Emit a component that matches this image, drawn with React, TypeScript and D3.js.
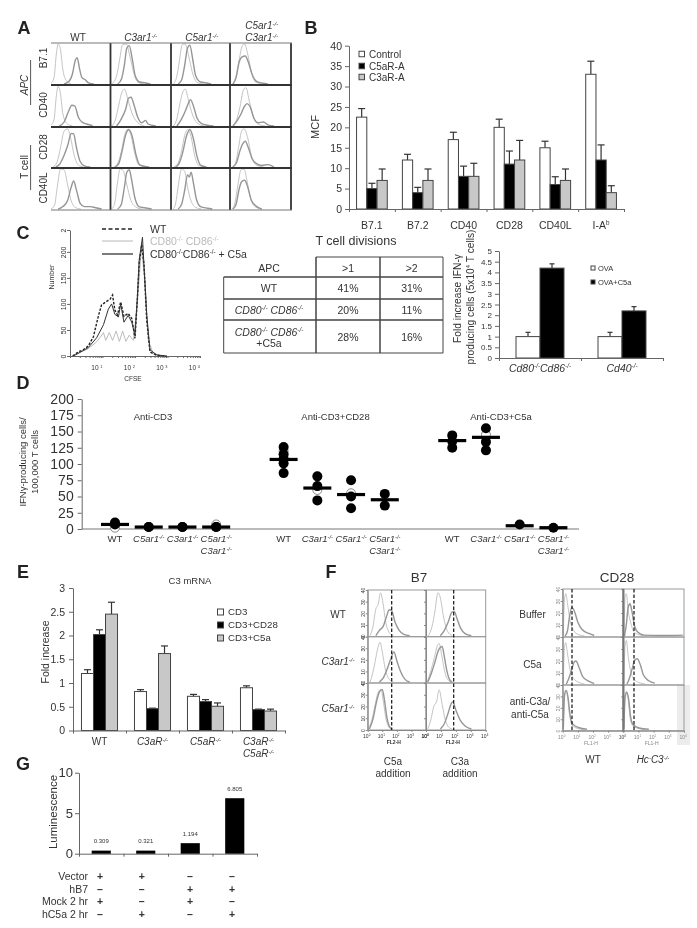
import React, { useEffect, useRef } from 'react';
import * as d3 from 'd3';

const FONT = '"Liberation Sans", Arial, sans-serif';
const INK = '#333';
const AXIS = '#666';
const THIN = '#c4c4c4';
const THICK = '#969696';

type Pt = [number, number];

// Panel A: flow histograms, x and y as fractions of the cell
const aColumns = ['WT', 'C3ar1^{-/-}', 'C5ar1^{-/-}', 'C3ar1^{-/-}'];
const aRows = ['B7.1', 'CD40', 'CD28', 'CD40L'];
const aThin: Pt[][][] = [
  [
    [[0, .02], [.05, .15], [.09, .75], [.12, 1], [.16, .85], [.2, .35], [.26, .08], [.34, 0]],
    [[.02, 0], [.1, .2], [.15, .6], [.2, .98], [.26, 1], [.32, .7], [.38, .3], [.45, .05], [.55, 0]],
    [[.04, 0], [.1, .2], [.14, .55], [.19, .98], [.24, 1], [.3, .7], [.36, .3], [.44, .04], [.55, 0]],
    [[.04, 0], [.1, .2], [.15, .6], [.2, .95], [.24, 1], [.29, .75], [.35, .3], [.42, .05], [.55, 0]],
  ],
  [
    [[0, .02], [.05, .15], [.09, .75], [.12, 1], [.16, .8], [.2, .3], [.27, .06], [.36, 0]],
    [[.02, 0], [.08, .15], [.14, .55], [.19, .85], [.23, .92], [.29, .65], [.36, .3], [.44, .1], [.56, 0]],
    [[.04, 0], [.1, .18], [.15, .55], [.2, .85], [.24, .92], [.3, .62], [.36, .3], [.44, .08], [.56, 0]],
    [[.04, 0], [.1, .12], [.16, .45], [.22, .9], [.26, .96], [.32, .6], [.38, .25], [.46, .05], [.58, 0]],
  ],
  [
    [[.03, 0], [.1, .12], [.16, .5], [.22, .92], [.28, .98], [.33, .75], [.39, .3], [.46, .05], [.55, 0]],
    [[.05, 0], [.12, .1], [.18, .4], [.23, .8], [.28, .96], [.34, .8], [.4, .35], [.47, .05], [.58, 0]],
    [[.05, 0], [.12, .1], [.18, .42], [.23, .8], [.28, .96], [.34, .78], [.4, .3], [.47, .04], [.58, 0]],
    [[.03, 0], [.09, .1], [.14, .5], [.19, .92], [.23, .98], [.29, .75], [.35, .3], [.42, .06], [.55, 0]],
  ],
  [
    [[0, 0], [.06, .1], [.11, .6], [.16, 1], [.22, .98], [.28, .6], [.34, .2], [.42, .03], [.5, 0]],
    [[.02, 0], [.07, .15], [.11, .6], [.16, 1], [.21, .96], [.27, .6], [.33, .25], [.42, .05], [.52, 0]],
    [[.04, 0], [.08, .15], [.12, .55], [.18, 1], [.23, .95], [.28, .55], [.34, .2], [.42, .04], [.52, 0]],
    [[.04, 0], [.08, .15], [.13, .6], [.18, .98], [.23, 1], [.28, .7], [.33, .3], [.42, .05], [.52, 0]],
  ],
];
const aThick: Pt[][][] = [
  [
    [[.22, 0], [.3, .06], [.36, .25], [.41, .6], [.44, .66], [.48, .38], [.52, .16], [.58, .1], [.63, .03], [.72, 0]],
    [[.12, 0], [.18, .12], [.23, .48], [.27, .9], [.31, .96], [.36, .62], [.41, .2], [.48, .05], [.56, .03], [.66, 0]],
    [[.12, 0], [.18, .1], [.23, .45], [.28, .9], [.32, .97], [.37, .6], [.42, .2], [.5, .05], [.58, .03], [.68, 0]],
    [[.05, 0], [.1, .16], [.15, .55], [.2, .68], [.25, .7], [.3, .55], [.36, .25], [.44, .06], [.54, .02], [.62, 0]],
  ],
  [
    [[.14, 0], [.22, .1], [.29, .35], [.35, .52], [.4, .5], [.46, .22], [.52, .1], [.6, .05], [.7, .01]],
    [[.1, 0], [.18, .18], [.25, .42], [.3, .7], [.34, .72], [.39, .52], [.45, .22], [.52, .08], [.58, .14], [.62, .05], [.75, 0]],
    [[.1, 0], [.18, .18], [.25, .4], [.29, .55], [.33, .66], [.38, .5], [.44, .2], [.52, .06], [.62, .02], [.72, 0]],
    [[.05, 0], [.12, .14], [.18, .3], [.24, .5], [.28, .56], [.33, .48], [.39, .2], [.46, .08], [.55, .1], [.62, .03], [.72, 0]],
  ],
  [
    [[.08, 0], [.15, .08], [.22, .3], [.28, .55], [.34, .86], [.38, .85], [.43, .48], [.49, .14], [.56, .03], [.66, 0]],
    [[.08, 0], [.14, .1], [.19, .4], [.25, .82], [.3, .96], [.36, .78], [.42, .32], [.48, .06], [.56, .02], [.64, 0]],
    [[.08, 0], [.14, .1], [.2, .38], [.26, .78], [.32, .96], [.38, .72], [.44, .28], [.5, .05], [.6, 0]],
    [[.05, 0], [.11, .12], [.16, .4], [.21, .6], [.25, .66], [.3, .5], [.36, .22], [.44, .08], [.52, .04], [.62, .06], [.72, 0]],
  ],
  [
    [[.12, 0], [.2, .06], [.28, .22], [.34, .55], [.38, .7], [.43, .46], [.49, .14], [.56, .06], [.66, .06], [.75, .03], [.85, 0]],
    [[.12, 0], [.18, .12], [.23, .55], [.27, .92], [.31, .98], [.35, .72], [.4, .3], [.47, .06], [.56, .03], [.68, 0]],
    [[.12, 0], [.18, .12], [.23, .45], [.28, .85], [.31, .8], [.34, .92], [.38, .65], [.43, .25], [.5, .06], [.62, .02], [.7, 0]],
    [[.05, 0], [.1, .12], [.15, .5], [.19, .68], [.24, .72], [.29, .55], [.35, .22], [.44, .06], [.52, 0]],
  ],
];

// Panel B
const bCategories = ['B7.1', 'B7.2', 'CD40', 'CD28', 'CD40L', 'I-A^{b}'];
const bSeries = ['Control', 'C5aR-A', 'C3aR-A'];
const bControl = [22.5, 12, 17, 20, 15, 33];
const bControlTop = [24.6, 13.4, 18.8, 22, 16.6, 36.2];
const bC5aR = [5, 4, 8, 11, 6, 12];
const bC5aRTop = [6.3, 5.3, 10.5, 14.2, 7.9, 15.7];
const bC3aR = [7, 7, 8, 12, 7, 4];
const bC3aRTop = [9.8, 9.8, 11.2, 16.8, 9.8, 5.7];
const bTicks = [0, 5, 10, 15, 20, 25, 30, 35, 40];

// Panel C histogram: [log10 CFSE, cell number]
const cWT: Pt[] = [[.08, 0], [.26, 8], [.41, 12], [.56, 19], [.72, 37], [.87, 76], [.97, 98], [1.13, 105], [1.23, 109], [1.31, 117], [1.38, 88], [1.46, 79], [1.56, 104], [1.66, 76], [1.79, 82], [1.9, 72], [2.0, 34], [2.07, 107], [2.13, 180], [2.21, 214], [2.28, 172], [2.36, 69], [2.46, 8], [2.67, 1], [2.97, 0]];
const cKO: Pt[] = [[.1, 0], [.31, 7], [.56, 14], [.8, 26], [.92, 35], [1.03, 45], [1.1, 30], [1.21, 45], [1.31, 30], [1.42, 48], [1.52, 28], [1.62, 48], [1.72, 28], [1.82, 40], [1.95, 30], [2.07, 100], [2.2, 210], [2.31, 140], [2.41, 30], [2.56, 5], [2.87, 0]];
const cKOC5a: Pt[] = [[.1, 0], [.31, 7], [.56, 16], [.82, 35], [1.03, 60], [1.18, 90], [1.28, 100], [1.38, 80], [1.49, 75], [1.56, 100], [1.66, 65], [1.79, 78], [1.9, 65], [2.0, 40], [2.07, 110], [2.13, 185], [2.23, 228], [2.28, 170], [2.36, 80], [2.46, 12], [2.67, 2], [2.97, 0]];
const cLegend = ['WT', 'CD80^{-/-} CD86^{-/-}', 'CD80^{-/-}CD86^{-/-} + C5a'];
const cTicks = [0, 50, 100, 150, 200, 242];
const cDecades = [1, 2, 3, 4];

const tableHead = ['APC', '>1', '>2'];
const tableFirst = ['WT', 'CD80^{-/-} CD86^{-/-}', 'CD80^{-/-} CD86^{-/-}'];
const tableGt1 = ['41%', '20%', '28%'];
const tableGt2 = ['31%', '11%', '16%'];

const c2Categories = ['Cd80^{-/-}Cd86^{-/-}', 'Cd40^{-/-}'];
const c2Ova = [1, 1];
const c2OvaTop = [1.2, 1.2];
const c2OvaC5a = [4.2, 2.2];
const c2OvaC5aTop = [4.4, 2.4];
const c2Ticks = [0, .5, 1, 1.5, 2, 2.5, 3, 3.5, 4, 4.5, 5];

// Panel D
const dSlots = [0, 1, 2, 3, 5, 6, 7, 8, 10, 11, 12, 13];
const dLabels = ['WT', 'C5ar1^{-/-}', 'C3ar1^{-/-}', 'C5ar1^{-/-}', 'WT', 'C3ar1^{-/-}', 'C5ar1^{-/-}', 'C5ar1^{-/-}', 'WT', 'C3ar1^{-/-}', 'C5ar1^{-/-}', 'C5ar1^{-/-}'];
const dLabels2 = ['', '', '', 'C3ar1^{-/-}', '', '', '', 'C3ar1^{-/-}', '', '', '', 'C3ar1^{-/-}'];
const dDots = [[10, 7], [3, 3], [3, 3], [3, 3], [126, 115, 108, 101, 86], [81, 66, 44], [75, 50, 32], [54, 36], [144, 135, 125], [155, 134, 121], [7], [2]];
const dRings = [[2], [], [], [7], [120], [60], [55], [], [], [145], [], []];
const dMedians = [7, 3, 3, 3, 107, 63, 53, 45, 136, 141, 5, 2];
const dTicks = [0, 25, 50, 75, 100, 125, 150, 175, 200];
const dGroups = ['Anti-CD3', 'Anti-CD3+CD28', 'Anti-CD3+C5a'];

// Panel E
const eCategories = ['WT', 'C3aR^{-/-}', 'C5aR^{-/-}', 'C3aR^{-/-}'];
const eCategories2 = ['', '', '', 'C5aR^{-/-}'];
const eSeries = ['CD3', 'CD3+CD28', 'CD3+C5a'];
const eCD3 = [1.2, .82, .72, .9];
const eCD3Top = [1.28, .86, .76, .94];
const eCD28 = [2.02, .46, .61, .44];
const eCD28Top = [2.12, .47, .65, .45];
const eC5a = [2.45, 1.62, .51, .41];
const eC5aTop = [2.7, 1.78, .58, .45];
const eTicks = [0, .5, 1, 1.5, 2, 2.5, 3];

// Panel F, B7 block: [control, stained] for each cell, row by row
const fB7: Pt[][][] = [
  [[[.04, 0], [.09, .2], [.14, .6], [.18, .7], [.22, .96], [.26, .75], [.31, .3], [.38, .05], [.44, 0]],
    [[.14, 0], [.2, .12], [.27, .22], [.32, .42], [.37, .58], [.41, .56], [.47, .3], [.54, .12], [.62, .03], [.72, 0]]],
  [[[.04, 0], [.1, .2], [.15, .55], [.2, .96], [.24, .85], [.29, .45], [.36, .1], [.44, 0]],
    [[.24, 0], [.3, .1], [.37, .3], [.43, .52], [.47, .55], [.52, .38], [.58, .17], [.66, .04], [.76, 0]]],
  [[[.04, 0], [.09, .22], [.14, .55], [.18, .8], [.21, .9], [.25, .68], [.3, .3], [.37, .06], [.44, 0]],
    [[.2, 0], [.27, .1], [.33, .28], [.39, .5], [.45, .68], [.5, .48], [.56, .25], [.64, .06], [.72, 0]]],
  [[[.02, 0], [.08, .25], [.14, .55], [.19, .82], [.22, .87], [.27, .55], [.32, .2], [.38, .03], [.42, 0]],
    [[.03, 0], [.09, .2], [.15, .45], [.21, .72], [.27, .8], [.31, .55], [.35, .25], [.4, .04], [.44, 0]]],
  [[[.01, 0], [.07, .2], [.13, .55], [.18, .82], [.23, .88], [.27, .6], [.31, .25], [.36, .05], [.4, 0]],
    [[.03, 0], [.09, .22], [.15, .6], [.2, .82], [.25, .88], [.29, .62], [.33, .25], [.38, .04], [.42, 0]]],
  [[[.03, 0], [.08, .2], [.13, .5], [.18, .62], [.22, .87], [.27, .55], [.32, .22], [.38, .04], [.44, 0]],
    [[.24, 0], [.3, .1], [.37, .35], [.42, .56], [.45, .6], [.5, .42], [.58, .18], [.66, .06], [.76, 0]]],
];
// Panel F, CD28 block
const fCD28: Pt[][][] = [
  [[[.01, .02], [.03, .8], [.05, .92], [.08, .7], [.12, .35], [.18, .12], [.26, .03], [.36, 0]],
    [[.04, 0], [.08, .12], [.11, .4], [.15, .62], [.19, .55], [.25, .3], [.32, .14], [.42, .06], [.52, .01]]],
  [[[.01, .02], [.03, .85], [.05, .92], [.08, .55], [.12, .3], [.18, .08], [.28, .02], [.38, 0]],
    [[.02, 0], [.05, .25], [.08, .62], [.11, .7], [.14, .55], [.18, .25], [.24, .08], [.34, .02], [.6, .01], [.98, .02]]],
  [[[.01, .02], [.03, .8], [.05, .9], [.08, .65], [.12, .32], [.18, .12], [.26, .04], [.36, 0]],
    [[.06, 0], [.1, .12], [.15, .32], [.19, .48], [.22, .5], [.27, .36], [.33, .16], [.42, .07], [.52, .01]]],
  [[[.01, .02], [.03, .85], [.05, .95], [.08, .6], [.12, .28], [.18, .1], [.26, .03], [.36, 0]],
    [[.06, 0], [.1, .12], [.15, .35], [.19, .52], [.23, .55], [.28, .42], [.33, .2], [.42, .07], [.52, .02]]],
  [[[.01, .02], [.03, .82], [.05, .9], [.08, .75], [.11, .38], [.15, .12], [.24, .03], [.36, 0]],
    [[.01, .02], [.03, .78], [.06, .9], [.09, .72], [.12, .35], [.16, .14], [.26, .05], [.4, .01]]],
  [[[.01, .02], [.03, .8], [.05, .88], [.08, .7], [.11, .3], [.15, .1], [.24, .03], [.36, 0]],
    [[.01, .02], [.03, .75], [.06, .85], [.09, .68], [.12, .3], [.16, .12], [.26, .04], [.42, .01]]],
];
const fB7Rows = ['WT', 'C3ar1^{-/-}', 'C5ar1^{-/-}'];
const fB7Cols = ['C5a', 'C3a'];
const fCD28Rows = ['Buffer', 'C5a'];
const fCD28Cols = ['WT', 'Hc^{-}C3^{-/-}'];
const fTicks = [0, 10, 20, 30, 40];
const fDecades = [0, 1, 2, 3, 4];

// Panel G
const gValues = [.309, .321, 1.194, 6.805];
const gBars = [.38, .38, 1.3, 6.85];
const gLabels = ['0.309', '0.321', '1.194', '6.805'];
const gTicks = [0, 5, 10];
const gRows = ['Vector', 'hB7', 'Mock 2 hr', 'hC5a 2 hr'];
const gSigns = [['+', '+', '–', '–'], ['–', '–', '+', '+'], ['+', '–', '+', '–'], ['–', '+', '–', '+']];

type G = d3.Selection<any, unknown, null, undefined>;
interface TextOpts { size?: number; anchor?: string; italic?: boolean; weight?: string; fill?: string; rotate?: boolean }

// ^{..} in a label becomes a raised tspan
const label = (g: G, x: number, y: number, s: string, o: TextOpts = {}) => {
  const size = o.size ?? 10;
  const t = g.append('text').attr('x', x).attr('y', y)
    .attr('font-family', FONT).attr('font-size', size)
    .attr('text-anchor', o.anchor ?? 'middle')
    .attr('fill', o.fill ?? INK);
  if (o.italic) t.attr('font-style', 'italic');
  if (o.weight) t.attr('font-weight', o.weight);
  if (o.rotate) t.attr('transform', `rotate(-90 ${x} ${y})`);
  const shift = size * 0.35;
  s.split(/\^\{([^}]*)\}/).forEach((part, i) => {
    if (i % 2) {
      t.append('tspan').attr('dy', -shift).attr('font-size', size * 0.6).text(part);
    } else if (part) {
      const ts = t.append('tspan').text(part);
      if (i > 0) ts.attr('dy', shift);
    }
  });
  return t;
};

const styleAxis = (g: G, size: number, fill = INK, stroke = AXIS) => {
  g.selectAll('path,line').attr('stroke', stroke);
  g.selectAll('text').attr('font-size', size).attr('fill', fill).attr('font-family', FONT);
};

const leftAxis = (svg: G, x: number, y: any, ticks: number[], size: number, pad = 3) => {
  const a = d3.axisLeft(y).tickValues(ticks).tickSize(4).tickSizeOuter(0).tickPadding(pad).tickFormat(d => String(d));
  const g = svg.append('g').attr('transform', `translate(${x},0)`).call(a as any);
  styleAxis(g, size);
  return g;
};

const bottomAxis = (svg: G, y: number, x: any, ticks: number[], tick = 3) => {
  const g = svg.append('g').attr('transform', `translate(0,${y})`)
    .call(d3.axisBottom(x).tickValues(ticks).tickSize(tick).tickSizeOuter(0).tickFormat(() => '') as any);
  styleAxis(g, 1);
  return g;
};

const bars = (svg: G, band: any, sub: any, y: any, cats: string[], vals: number[], tops: number[], fill: string, capW = 3.5, key = '') => {
  const g = svg.append('g').attr('data-series', key);
  const rows = cats.map((c, i) => ({ c, v: vals[i], t: tops[i] }));
  const cx = (d: any) => band(d.c) + sub(key) + sub.bandwidth() / 2;
  g.selectAll('line.err').data(rows).join('line').attr('class', 'err')
    .attr('x1', cx).attr('x2', cx).attr('y1', d => y(d.v)).attr('y2', d => y(d.t))
    .attr('stroke', INK).attr('stroke-width', 1.2);
  g.selectAll('line.cap').data(rows).join('line').attr('class', 'cap')
    .attr('x1', d => cx(d) - capW).attr('x2', d => cx(d) + capW).attr('y1', d => y(d.t)).attr('y2', d => y(d.t))
    .attr('stroke', INK).attr('stroke-width', 1.2);
  g.selectAll('rect').data(rows).join('rect')
    .attr('x', d => band(d.c) + sub(key)).attr('width', sub.bandwidth())
    .attr('y', d => y(d.v)).attr('height', d => y(0) - y(d.v))
    .attr('fill', fill).attr('stroke', '#444').attr('stroke-width', 1);
};

const swatches = (svg: G, x: number, ys: number[], names: string[], fills: string[], s: number, size: number, dx: number) => {
  names.forEach((n, i) => {
    svg.append('rect').attr('x', x).attr('y', ys[i] - s / 2).attr('width', s).attr('height', s)
      .attr('fill', fills[i]).attr('stroke', '#444').attr('stroke-width', 1);
    label(svg, x + dx, ys[i] + size * 0.36, n, { size, anchor: 'start' });
  });
};

// one histogram cell with a light control curve and a darker stained curve
const hist = (svg: G, x0: number, x1: number, y0: number, y1: number, thin: Pt[], thick: Pt[]) => {
  const x = d3.scaleLinear().domain([0, 1]).range([x0, x1]);
  const y = d3.scaleLinear().domain([0, 1]).range([y1 - 1, y0 + 1]);
  const line = d3.line<Pt>().x(d => x(d[0])).y(d => y(d[1])).curve(d3.curveMonotoneX);
  svg.append('path').attr('d', line(thin)).attr('fill', 'none').attr('stroke', THIN).attr('stroke-width', 1);
  svg.append('path').attr('d', line(thick)).attr('fill', 'none').attr('stroke', THICK).attr('stroke-width', 1.4);
};

const panelLetter = (svg: G, x: number, y: number, s: string) =>
  label(svg, x, y, s, { size: 18, weight: 'bold', fill: '#222' });

const drawA = (svg: G) => {
  panelLetter(svg, 24, 34, 'A');
  const xs = [51, 110.5, 171, 230, 291];
  const ys = [43, 85, 127, 168, 210];
  aThin.forEach((row, r) => row.forEach((c, k) => hist(svg, xs[k], xs[k + 1], ys[r], ys[r + 1], c, aThick[r][k])));
  xs.slice(1).forEach(x => svg.append('line').attr('x1', x).attr('x2', x).attr('y1', 43).attr('y2', 210).attr('stroke', '#333').attr('stroke-width', 1.8));
  ys.forEach((y, i) => svg.append('line').attr('x1', 51).attr('x2', 292).attr('y1', y).attr('y2', y)
    .attr('stroke', i === 0 || i === 4 ? '#777' : '#333').attr('stroke-width', i === 0 || i === 4 ? 1 : 1.8));
  const mid = [78, 140.7, 201.7, 261.7];
  aColumns.forEach((c, i) => label(svg, mid[i], 41, c, { size: 10, italic: i > 0 }));
  label(svg, 261.7, 29, 'C5ar1^{-/-}', { size: 10, italic: true });
  const rowMid = [58, 105, 147, 188];
  aRows.forEach((r, i) => label(svg, 47, rowMid[i], r, { size: 10, rotate: true }));
  label(svg, 28, 85, 'APC', { size: 10, rotate: true, italic: true });
  label(svg, 28, 167, 'T cell', { size: 10, rotate: true });
  [[60, 105], [145, 190]].forEach(([a, b]) => svg.append('line').attr('x1', 30.6).attr('x2', 30.6).attr('y1', a).attr('y2', b).attr('stroke', '#555'));
};

const drawB = (svg: G) => {
  panelLetter(svg, 311, 34, 'B');
  const y = d3.scaleLinear().domain([0, 40]).range([209, 45.7]);
  const band = d3.scaleBand().domain(bCategories).range([349, 624]).paddingInner(.33).paddingOuter(.165);
  const sub = d3.scaleBand().domain(bSeries).range([0, band.bandwidth()]);
  const edges = d3.scaleLinear().domain([0, 6]).range([349, 624]);
  leftAxis(svg, 349, y, bTicks, 10.5);
  bars(svg, band, sub, y, bCategories, bControl, bControlTop, '#fff', 3.5, 'Control');
  bars(svg, band, sub, y, bCategories, bC5aR, bC5aRTop, '#000', 3.5, 'C5aR-A');
  bars(svg, band, sub, y, bCategories, bC3aR, bC3aRTop, '#c8c8c8', 3.5, 'C3aR-A');
  bottomAxis(svg, 209, edges, d3.range(7));
  bCategories.forEach(c => label(svg, (band(c) as number) + band.bandwidth() / 2, 229, c, { size: 10.5 }));
  label(svg, 319, 127, 'MCF', { size: 11, rotate: true });
  swatches(svg, 359, [54, 66, 77], bSeries, ['#fff', '#000', '#c8c8c8'], 5.5, 10, 10);
};

const drawC = (svg: G) => {
  panelLetter(svg, 23, 239, 'C');
  const x = d3.scaleLinear().domain([0, 4]).range([70, 200]);
  const xLog = d3.scaleLog().domain([1, 1e4]).range([70, 200]);
  const y = d3.scaleLinear().domain([0, 242]).range([356, 230]);
  const line = d3.line<Pt>().x(d => x(d[0])).y(d => y(d[1]));
  const yAxis = svg.append('g').attr('transform', 'translate(70,0)')
    .call(d3.axisLeft(y).tickValues(cTicks).tickSize(3).tickSizeOuter(0).tickPadding(4)
      .tickFormat(d => (d === 242 ? '2' : String(d))) as any);
  styleAxis(yAxis, 7);
  yAxis.selectAll('text').attr('text-anchor', 'middle').attr('dy', 0)
    .attr('transform', 'rotate(-90 -7 0)').attr('x', -7).attr('y', 3);
  bottomAxis(svg, 356, xLog, xLog.ticks(), 2);
  cDecades.forEach(d => label(svg, xLog(10 ** d), 370, `10 ^{${d}}`, { size: 6.5, anchor: 'end' }));
  label(svg, 133, 381, 'CFSE', { size: 6.5 });
  label(svg, 54, 277, 'Number', { size: 7, rotate: true });
  const curves: [Pt[], string, string, number][] = [
    [cKO, '#bcbcbc', 'none', 1],
    [cWT, '#222', '2.5 1.5', 1.4],
    [cKOC5a, '#333', 'none', 1],
  ];
  curves.forEach(([d, stroke, dash, w]) => svg.append('path').attr('d', line(d)).attr('fill', 'none')
    .attr('stroke', stroke).attr('stroke-dasharray', dash).attr('stroke-width', w));
  const legendY = [229, 241, 254];
  const legendStroke = ['#222', '#b8b8b8', '#444'];
  cLegend.forEach((s, i) => {
    svg.append('line').attr('x1', 102).attr('x2', 133).attr('y1', legendY[i]).attr('y2', legendY[i])
      .attr('stroke', legendStroke[i]).attr('stroke-width', i === 1 ? 1 : 1.4).attr('stroke-dasharray', i === 0 ? '4 2.5' : 'none');
    label(svg, 150, legendY[i] + 4, s, { size: 10.5, anchor: 'start', fill: i === 1 ? '#bbb' : INK });
  });

  // table
  label(svg, 356, 245, 'T cell divisions', { size: 12.5 });
  const hs = [277, 299, 320, 353];
  const hl = (a: number, b: number, yy: number, w = 1.5) => svg.append('line').attr('x1', a).attr('x2', b).attr('y1', yy).attr('y2', yy).attr('stroke', '#444').attr('stroke-width', w);
  const vl = (xx: number, a: number, b: number, w = 1.5) => svg.append('line').attr('x1', xx).attr('x2', xx).attr('y1', a).attr('y2', b).attr('stroke', '#444').attr('stroke-width', w);
  hl(316, 443, 257, 1);
  hs.forEach((h, i) => hl(223.7, 443, h, i === 3 ? 1 : 1.6));
  vl(223.7, 277, 353, 1);
  vl(316, 257, 353);
  vl(380, 257, 353);
  vl(443, 257, 353, 1);
  const colX = [269, 348, 411.7];
  tableHead.forEach((s, i) => label(svg, colX[i], 271.5, s, { size: 10.5 }));
  const rowY = [292, 313.5, 340.5];
  tableFirst.forEach((s, i) => label(svg, colX[0], i === 2 ? 335.5 : rowY[i], s, { size: 10.5, italic: i > 0 }));
  label(svg, colX[0], 347, '+C5a', { size: 10.5 });
  tableGt1.forEach((s, i) => label(svg, colX[1], rowY[i], s, { size: 10.5 }));
  tableGt2.forEach((s, i) => label(svg, colX[2], rowY[i], s, { size: 10.5 }));

  // fold increase bars
  const yb = d3.scaleLinear().domain([0, 5]).range([358, 251]);
  const band = d3.scaleBand().domain(c2Categories).range([499, 663]).paddingInner(.415).paddingOuter(.2075);
  const sub = d3.scaleBand().domain(['OVA', 'OVA+C5a']).range([0, band.bandwidth()]);
  const edges = d3.scaleLinear().domain([0, 2]).range([499, 663]);
  leftAxis(svg, 499, yb, c2Ticks, 8);
  bars(svg, band, sub, yb, c2Categories, c2Ova, c2OvaTop, '#fff', 2.5, 'OVA');
  bars(svg, band, sub, yb, c2Categories, c2OvaC5a, c2OvaC5aTop, '#000', 2.5, 'OVA+C5a');
  bottomAxis(svg, 358, edges, [0, 1, 2]);
  c2Categories.forEach(c => label(svg, (band(c) as number) + band.bandwidth() / 2, 372, c, { size: 10.5, italic: true }));
  swatches(svg, 591, [268, 282], ['OVA', 'OVA+C5a'], ['#fff', '#000'], 4, 7.5, 7);
  label(svg, 461, 298.5, 'Fold increase IFN-γ', { size: 10.2, rotate: true });
  label(svg, 474, 297, 'producing cells (5x10^{4} T cells)', { size: 10.2, rotate: true });
};

const drawD = (svg: G) => {
  panelLetter(svg, 23, 389, 'D');
  const x = d3.scaleLinear().domain([0, 13]).range([115, 553.4]);
  const y = d3.scaleLinear().domain([0, 200]).range([529, 399]);
  leftAxis(svg, 81.7, y, dTicks, 14, 4);
  svg.append('line').attr('x1', 81.7).attr('x2', 579).attr('y1', 529).attr('y2', 529).attr('stroke', '#777');
  const dots = svg.append('g');
  dSlots.forEach((slot, i) => {
    dRings[i].forEach(v => dots.append('circle').attr('cx', x(slot)).attr('cy', y(v)).attr('r', 4.5)
      .attr('fill', '#fff').attr('stroke', '#888').attr('stroke-width', 1));
    dDots[i].forEach(v => dots.append('circle').attr('cx', x(slot)).attr('cy', y(v)).attr('r', 5).attr('fill', '#000'));
    dots.append('line').attr('x1', x(slot) - 14).attr('x2', x(slot) + 14)
      .attr('y1', y(dMedians[i])).attr('y2', y(dMedians[i])).attr('stroke', '#000').attr('stroke-width', 3.2);
    label(svg, x(slot), 542, dLabels[i], { size: 9.5, italic: dLabels[i] !== 'WT' });
    if (dLabels2[i]) label(svg, x(slot), 554, dLabels2[i], { size: 9.5, italic: true });
  });
  const groupX = [153, 335.5, 501];
  dGroups.forEach((s, i) => label(svg, groupX[i], 420, s, { size: 9.5 }));
  label(svg, 26, 462, 'IFNγ-producing cells/', { size: 9.5, rotate: true });
  label(svg, 38, 462, '100,000 T cells', { size: 9.5, rotate: true });
};

const drawE = (svg: G) => {
  panelLetter(svg, 23, 578, 'E');
  const y = d3.scaleLinear().domain([0, 3]).range([730.5, 588]);
  const band = d3.scaleBand().domain(eCategories.map((c, i) => `${i}`)).range([73, 285]).paddingInner(.32).paddingOuter(.16);
  const sub = d3.scaleBand().domain(eSeries).range([0, band.bandwidth()]);
  const edges = d3.scaleLinear().domain([0, 4]).range([73, 285]);
  const keys = eCategories.map((c, i) => `${i}`);
  leftAxis(svg, 73, y, eTicks, 10.5, 4);
  bars(svg, band, sub, y, keys, eCD3, eCD3Top, '#fff', 3.5, 'CD3');
  bars(svg, band, sub, y, keys, eCD28, eCD28Top, '#000', 3.5, 'CD3+CD28');
  bars(svg, band, sub, y, keys, eC5a, eC5aTop, '#c8c8c8', 3.5, 'CD3+C5a');
  bottomAxis(svg, 730.5, edges, d3.range(5));
  keys.forEach((k, i) => {
    const cx = (band(k) as number) + band.bandwidth() / 2;
    label(svg, cx, 745, eCategories[i], { size: 10, italic: i > 0 });
    if (eCategories2[i]) label(svg, cx, 757, eCategories2[i], { size: 10, italic: true });
  });
  label(svg, 49, 652, 'Fold increase', { size: 10.5, rotate: true });
  label(svg, 190, 584, 'C3 mRNA', { size: 9.5 });
  swatches(svg, 217.5, [612, 625, 638], eSeries, ['#fff', '#000', '#c8c8c8'], 6, 9.7, 10.5);
};

const drawF = (svg: G) => {
  panelLetter(svg, 331, 578, 'F');
  const block = (xs: number[], ys: number[], curves: Pt[][][], dashes: number[], ink: string, wide: boolean) => {
    curves.forEach((cell, i) => {
      const r = Math.floor(i / 2);
      const k = i % 2;
      hist(svg, xs[k], xs[k + 1], ys[r], ys[r + 1], cell[0], cell[1]);
      svg.append('rect').attr('x', xs[k]).attr('y', ys[r]).attr('width', xs[k + 1] - xs[k]).attr('height', ys[r + 1] - ys[r])
        .attr('fill', 'none').attr('stroke', '#999').attr('stroke-width', 1);
      const yScale = d3.scaleLinear().domain([0, 40]).range([ys[r + 1], ys[r]]);
      const a = svg.append('g').attr('transform', `translate(${xs[k]},0)`)
        .call(d3.axisLeft(yScale).tickValues(fTicks).tickSize(2).tickSizeOuter(0).tickFormat(d => (k === 0 ? String(d) : '')) as any);
      styleAxis(a, 5, ink, '#888');
      a.selectAll('text').attr('text-anchor', 'middle').attr('dy', 0).attr('x', -4).attr('y', 1.5)
        .attr('transform', 'rotate(-90 -4 0)');
    });
    [0, 1].forEach(k => {
      const xLog = d3.scaleLinear().domain([0, 4]).range([xs[k], xs[k + 1]]);
      const a = svg.append('g').attr('transform', `translate(0,${ys[3]})`)
        .call(d3.axisBottom(xLog).tickValues(fDecades).tickSize(2).tickSizeOuter(0).tickFormat(() => '') as any);
      styleAxis(a, 1, ink, '#888');
      fDecades.forEach(d => label(svg, xLog(d) - 1, ys[3] + 8, `10^{${d}}`, { size: 5, fill: ink }));
      label(svg, (xs[k] + xs[k + 1]) / 2 + (wide ? -3 : -2), ys[3] + 14, wide ? 'FL2-H' : 'FL1-H', { size: 5, fill: ink, weight: wide ? 'bold' : 'normal' });
      svg.append('line').attr('x1', dashes[k]).attr('x2', dashes[k]).attr('y1', ys[0]).attr('y2', ys[3])
        .attr('stroke', '#111').attr('stroke-width', 1.2).attr('stroke-dasharray', '3.5 2');
    });
  };

  svg.append('rect').attr('x', 677).attr('y', 685).attr('width', 13).attr('height', 60).attr('fill', '#ececec');
  block([367.7, 426, 485.7], [590, 636.7, 683, 730], fB7, [391.7, 453.7], '#333', true);
  block([562.7, 623.3, 684], [589, 637, 685, 730.7], fCD28, [572, 634], '#888', false);
  svg.append('line').attr('x1', 623.3).attr('x2', 623.3).attr('y1', 589).attr('y2', 730.7).attr('stroke', '#777').attr('stroke-width', 2);

  label(svg, 419, 582, 'B7', { size: 13.5 });
  label(svg, 617, 582, 'CD28', { size: 13.5 });
  const b7RowY = [618, 665, 712];
  fB7Rows.forEach((s, i) => label(svg, 338, b7RowY[i], s, { size: 10, italic: i > 0 }));
  const b7ColX = [393, 460];
  fB7Cols.forEach((s, i) => {
    label(svg, b7ColX[i], 765, s, { size: 10 });
    label(svg, b7ColX[i], 777, 'addition', { size: 10 });
  });
  const cdRowY = [618, 668];
  fCD28Rows.forEach((s, i) => label(svg, 532.5, cdRowY[i], s, { size: 10 }));
  label(svg, 530, 705, 'anti-C3a/', { size: 10 });
  label(svg, 530, 718, 'anti-C5a', { size: 10 });
  const cdColX = [593, 653];
  fCD28Cols.forEach((s, i) => label(svg, cdColX[i], 763, s, { size: 10, italic: i > 0 }));
};

const drawG = (svg: G) => {
  panelLetter(svg, 23, 770, 'G');
  const y = d3.scaleLinear().domain([0, 10]).range([853.7, 772.7]);
  const band = d3.scaleBand().domain(gLabels).range([79, 257]).paddingInner(.57).paddingOuter(.285);
  const edges = d3.scaleLinear().domain([0, 4]).range([79, 257]);
  leftAxis(svg, 79, y, gTicks, 13, 2);
  bottomAxis(svg, 853.7, edges, d3.range(5));
  svg.append('g').selectAll('rect').data(gLabels).join('rect')
    .attr('x', d => band(d) as number).attr('width', band.bandwidth())
    .attr('y', (d, i) => y(gBars[i])).attr('height', (d, i) => y(0) - y(gBars[i]))
    .attr('fill', '#000');
  gLabels.forEach((s, i) => label(svg, (band(s) as number) + band.bandwidth() / 2, y(gValues[i]) - 8, s, { size: 6 }));
  label(svg, 57, 812, 'Luminescence', { size: 11.5, rotate: true });
  const rowY = [880, 892.5, 904.5, 917.5];
  const signX = [100, 141.7, 190, 232];
  gRows.forEach((s, r) => {
    label(svg, 88, rowY[r], s, { size: 10.5, anchor: 'end' });
    gSigns[r].forEach((v, k) => label(svg, signX[k], rowY[r], v, { size: 10.5, weight: 'bold' }));
  });
};

const App = () => {
  const svgRef = useRef<SVGSVGElement>(null);

  useEffect(() => {
    const svg = d3.select(svgRef.current) as unknown as G;
    svg.selectAll('*').remove();
    drawA(svg);
    drawB(svg);
    drawC(svg);
    drawD(svg);
    drawE(svg);
    drawF(svg);
    drawG(svg);
  }, []);

  return <svg ref={svgRef} width={697} height={928} style={{ position: 'absolute', left: 0, top: 0, background: '#fff', filter: 'blur(0.35px)' }} />;
};

export default App;
